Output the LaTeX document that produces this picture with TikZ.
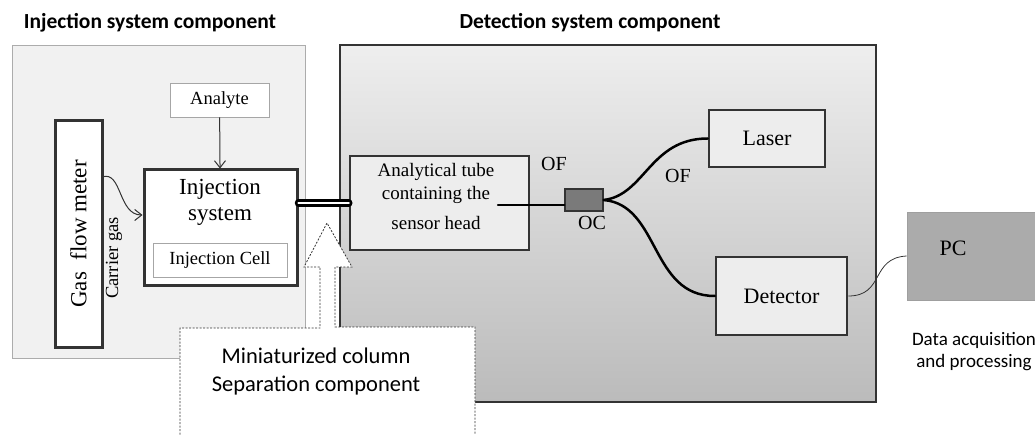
\documentclass[tikz,border=0pt]{standalone}
\usepackage{fontspec}
\setmainfont{Liberation Serif}
\newfontfamily\headfont{Carlito}
\usepackage{tikz}
\usetikzlibrary{arrows.meta}
\definecolor{boxedge}{HTML}{333333}
\definecolor{panelfill}{HTML}{F1F1F1}
\definecolor{devfill}{HTML}{EDEDED}
\definecolor{ocfill}{HTML}{7A7A7A}
\definecolor{pcfill}{HTML}{ABABAB}
\definecolor{shadetop}{HTML}{EEEEEE}
\definecolor{shadebot}{HTML}{BBBBBB}

\begin{document}
\begin{tikzpicture}[x=1pt,y=-1pt,
  panel/.style={draw=gray!65, line width=0.8pt, fill=panelfill, inner sep=0pt},
  detpanel/.style={draw=boxedge, line width=1.5pt, top color=shadetop, bottom color=shadebot, inner sep=0pt},
  heavybox/.style={draw=boxedge, line width=3pt, fill=white, inner sep=0pt},
  thinbox/.style={draw=gray!70, line width=0.8pt, fill=white, inner sep=0pt},
  devbox/.style={draw=boxedge, line width=2.5pt, fill=devfill, inner sep=0pt},
  head/.style={font=\headfont\bfseries\fontsize{21.5}{24}\selectfont, inner sep=0pt},
  sepline/.style={draw=boxedge, line width=0.8pt, dash pattern=on 2pt off 1.5pt, fill=white},
  flow/.style={draw=boxedge, line width=1pt, -{Straight Barb[length=7pt,width=11pt]}},
  fiber/.style={line width=2.5pt, line cap=round},
  tube/.style={draw=black, line width=2.5pt, double=white, double distance=2.5pt, line cap=round}]
\useasboundingbox (0,0) rectangle (1035,435);

% the two component panels
\node[panel, minimum width=293pt, minimum height=313pt] (injpanel) at (158.5,201.5) {};
\node[detpanel, minimum width=536pt, minimum height=357pt] (detpanel) at (608,223.5) {};
\node[head] (injhead) at (150,23) {Injection system component};
\node[head] (dethead) at (590,23) {Detection system component};

% separation column
\draw[sepline] (180,445) -- (180,328) -- (320,328) -- (320,267) -- (304,267) -- (327,223)
  -- (352,267) -- (335,267) -- (335,327) -- (475,327) -- (475,445) -- cycle;
\node[font=\headfont\fontsize{22.5}{28}\selectfont, align=center] (septext) at (316,371)
  {Miniaturized column\\Separation component};

% injection side
\node[heavybox, rotate=90, minimum width=226pt, minimum height=47pt,
  font=\fontsize{23}{24}\selectfont] (gfm) at (78.5,234) {Gas\ \ flow meter};
\node[thinbox, minimum width=99pt, minimum height=34pt, font=\fontsize{18.5}{20}\selectfont]
  (analyte) at (219.5,100) {Analyte};
\node[heavybox, minimum width=153pt, minimum height=116pt] (injsys) at (220.5,228) {};
\node[font=\fontsize{23}{26}\selectfont, align=center] (injtext) at (220,202) {Injection\\system};
\node[thinbox, minimum width=134pt, minimum height=34pt, font=\fontsize{18.5}{20}\selectfont]
  (injcell) at (220,260) {Injection Cell};
\node[rotate=90, font=\fontsize{18.5}{20}\selectfont, inner sep=0pt] (carrier) at (114,258) {Carrier gas};
\coordinate (gfmout) at (102,177);
\draw[flow] (gfmout) .. controls (122,170) and (118,215) .. (injsys.west |- 0,215);
\draw[flow] (analyte) -- (injsys);

% detection side
\node[devbox, minimum width=179pt, minimum height=94pt] (analyt) at (439.5,203) {};
\node[font=\fontsize{19}{23}\selectfont, align=center] (analyttext) at (436,197)
  {Analytical tube\\containing the\\[7pt]sensor head};
\draw[tube] (analyt.west -| injsys.east) -- (analyt.west);
\node[draw=boxedge, line width=1.5pt, fill=ocfill, minimum width=38pt, minimum height=22pt,
  inner sep=0pt] (oc) at (584,200) {};
\coordinate (sensorhd) at (498,205);
\draw[fiber] (sensorhd) -- (sensorhd -| oc.west);
\node[devbox, minimum width=116pt, minimum height=57pt, font=\fontsize{22}{24}\selectfont]
  (laser) at (767,138.5) {Laser};
\node[devbox, minimum width=131pt, minimum height=78pt, font=\fontsize{22}{24}\selectfont]
  (detector) at (781.5,296) {Detector};
\draw[fiber] (oc.east) .. controls (645,195) and (650,138.5) .. (laser.west);
\draw[fiber] (oc.east) .. controls (660,205) and (650,296) .. (detector.west);
\node[font=\fontsize{20}{22}\selectfont] (of1) at (554,164) {OF};
\node[font=\fontsize{20}{22}\selectfont] (of2) at (678,176) {OF};
\node[font=\fontsize{20}{22}\selectfont] (oclabel) at (592,223) {OC};

% data acquisition
\node[draw=gray!75, line width=0.8pt, fill=pcfill, minimum width=133pt, minimum height=88pt,
  inner sep=0pt] (pc) at (973.5,256) {};
\node[font=\fontsize{22}{24}\selectfont] (pctext) at (953,248) {PC};
\draw[boxedge, line width=0.8pt] (detector.east) .. controls (885,296) and (870,258) .. (pc.west);
\node[font=\headfont\fontsize{19}{22}\selectfont, align=center] (daq) at (974,352)
  {Data acquisition\\and processing};
\end{tikzpicture}
\end{document}
